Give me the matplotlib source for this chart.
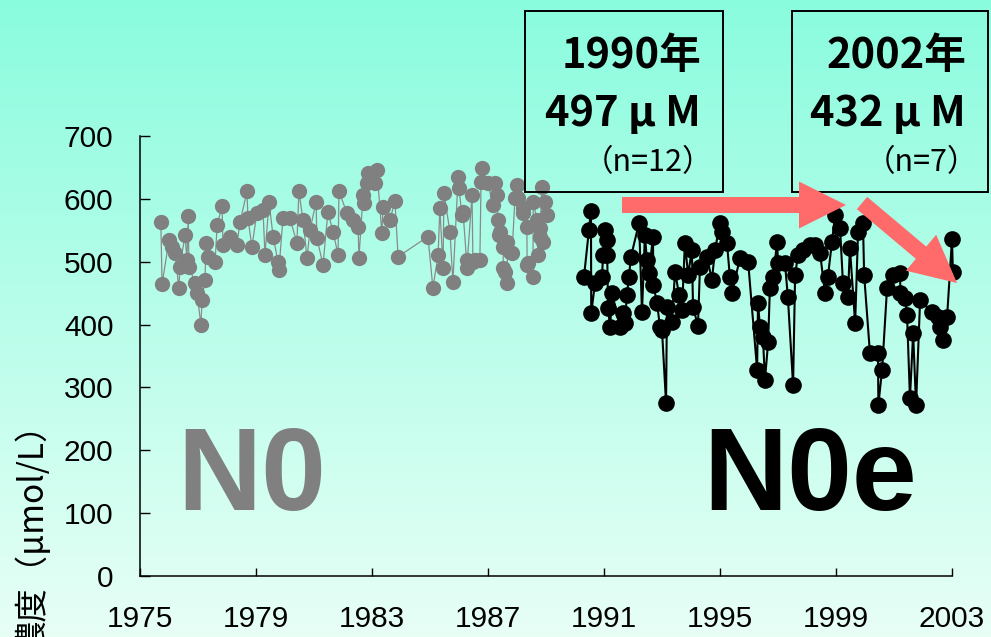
import numpy as np
import matplotlib
matplotlib.use("Agg")
import matplotlib.pyplot as plt
from matplotlib.patches import Polygon, Rectangle

# ---- data -------------------------------------------------------------
n0_years = [
    1975.72, 1975.76, 1976.00, 1976.10, 1976.21, 1976.34, 1976.38, 1976.55, 1976.62, 1976.66,
    1976.69, 1976.90, 1976.97, 1977.10, 1977.14, 1977.24, 1977.28, 1977.34, 1977.59, 1977.66,
    1977.83, 1977.86, 1978.10, 1978.34, 1978.45, 1978.69, 1978.72, 1978.86, 1979.03, 1979.24,
    1979.31, 1979.45, 1979.59, 1979.76, 1979.79, 1979.93, 1980.17, 1980.41, 1980.48, 1980.62,
    1980.76, 1980.86, 1981.07, 1981.10, 1981.31, 1981.48, 1981.66, 1981.83, 1981.86, 1982.14,
    1982.34, 1982.52, 1982.55, 1982.69, 1982.72, 1982.83, 1982.86, 1983.10, 1983.17, 1983.34,
    1983.38, 1983.62, 1983.79, 1983.90, 1984.93, 1985.10, 1985.28, 1985.34, 1985.45, 1985.48,
    1985.69, 1985.79, 1985.97, 1986.00, 1986.10, 1986.14, 1986.28, 1986.29, 1986.45, 1986.48,
    1986.55, 1986.72, 1986.76, 1986.79, 1987.00, 1987.17, 1987.24, 1987.31, 1987.34, 1987.38,
    1987.41, 1987.52, 1987.53, 1987.59, 1987.66, 1987.67, 1987.76, 1987.83, 1987.93, 1988.00,
    1988.03, 1988.21, 1988.22, 1988.34, 1988.35, 1988.38, 1988.55, 1988.56, 1988.69, 1988.72,
    1988.79, 1988.80, 1988.86, 1988.90, 1988.97, 1989.03,
]
n0_values = [
    563, 464, 534, 523, 514, 458, 492, 542, 503, 573,
    492, 466, 450, 399, 439, 471, 530, 508, 500, 558,
    589, 527, 540, 527, 563, 612, 569, 524, 577, 583,
    511, 595, 540, 500, 487, 569, 569, 530, 612, 566,
    506, 550, 595, 538, 495, 579, 547, 511, 612, 577,
    566, 555, 506, 606, 593, 625, 641, 625, 646, 546,
    587, 566, 597, 508, 540, 458, 511, 585, 490, 609,
    547, 468, 635, 617, 574, 579, 490, 503, 606, 500,
    503, 503, 627, 649, 625, 590, 625, 606, 566, 542,
    547, 524, 490, 484, 466, 531, 515, 514, 601, 622,
    601, 585, 577, 555, 495, 498, 476, 595, 566, 511,
    540, 553, 619, 531, 595, 574,
]

n0e_years = [
    1990.31, 1990.48, 1990.55, 1990.56, 1990.69, 1990.93, 1990.97, 1991.03, 1991.10, 1991.11,
    1991.14, 1991.21, 1991.28, 1991.55, 1991.66, 1991.72, 1991.79, 1991.86, 1991.93, 1992.21,
    1992.31, 1992.41, 1992.48, 1992.55, 1992.69, 1992.70, 1992.83, 1992.93, 1993.00, 1993.14,
    1993.17, 1993.34, 1993.45, 1993.59, 1993.69, 1993.79, 1993.90, 1994.03, 1994.07, 1994.24,
    1994.31, 1994.55, 1994.72, 1994.83, 1995.00, 1995.07, 1995.24, 1995.34, 1995.41, 1995.69,
    1995.97, 1996.28, 1996.31, 1996.38, 1996.48, 1996.55, 1996.66, 1996.72, 1996.83, 1996.97,
    1997.00, 1997.24, 1997.34, 1997.52, 1997.59, 1997.69, 1997.86, 1998.10, 1998.28, 1998.45,
    1998.62, 1998.72, 1998.86, 1998.97, 1999.14, 1999.24, 1999.41, 1999.48, 1999.66, 1999.76,
    1999.93, 1999.97, 2000.17, 2000.45, 2000.46, 2000.59, 2000.76, 2000.97, 2001.21, 2001.22,
    2001.38, 2001.45, 2001.55, 2001.66, 2001.76, 2001.90, 2002.31, 2002.52, 2002.59, 2002.69,
    2002.83, 2003.00, 2003.03,
]
n0e_values = [
    476, 550, 581, 418, 466, 476, 511, 550, 535, 511,
    426, 396, 450, 396, 418, 402, 447, 476, 508, 562,
    420, 542, 503, 482, 540, 463, 434, 396, 391, 275,
    428, 404, 484, 447, 423, 530, 479, 519, 428, 398,
    492, 508, 471, 519, 562, 547, 530, 476, 450, 506,
    500, 328, 434, 396, 380, 312, 372, 458, 476, 531,
    498, 498, 444, 304, 479, 511, 519, 527, 527, 514,
    450, 476, 531, 574, 553, 466, 444, 522, 402, 547,
    562, 479, 355, 355, 272, 328, 458, 479, 482, 450,
    442, 415, 283, 386, 272, 439, 420, 412, 396, 375,
    412, 536, 484,
]

x_ticks = [1975, 1979, 1983, 1987, 1991, 1995, 1999, 2003]
y_ticks = [0, 100, 200, 300, 400, 500, 600, 700]

box_texts = [
    ("1990年", "497 μ M", "（n=12）"),
    ("2002年", "432 μ M", "（n=7）"),
]
y_label = "濃度（μmol/L）"

# ---- figure -----------------------------------------------------------
W, H = 991, 637
fig = plt.figure(figsize=(W / 100, H / 100), dpi=100)


def fx(x):
    return x / W


def fy(y):
    return 1 - y / H


# vertical gradient background
bg = fig.add_axes([0, 0, 1, 1], zorder=-10)
top = np.array([138, 252, 222]) / 255
bot = np.array([232, 255, 246]) / 255
t = np.linspace(0, 1, 256)[:, None, None]
grad = top * (1 - t) + bot * t
bg.imshow(grad, aspect="auto", extent=[0, 1, 0, 1])
bg.axis("off")

ax = fig.add_axes([fx(140), 1 - 576 / H, (952 - 140) / W, (576 - 136) / H])
ax.set_facecolor("none")

ax.plot(n0_years, n0_values, "-", color="#8a8a8a", lw=0.9, zorder=3, clip_on=False)
ax.plot(n0_years, n0_values, "o", color="#808080", ms=11, mew=0, zorder=3, clip_on=False)
ax.plot(n0e_years, n0e_values, "-", color="black", lw=1.5, zorder=4, clip_on=False)
ax.plot(n0e_years, n0e_values, "o", color="black", ms=12, mew=0, zorder=4, clip_on=False)

ax.set_xlim(1975, 2003)
ax.set_ylim(0, 700)
ax.set_xticks(x_ticks)
ax.set_yticks(y_ticks)
for s in ("top", "right"):
    ax.spines[s].set_visible(False)
for s in ("left", "bottom"):
    ax.spines[s].set_linewidth(1.1)
ax.tick_params(axis="x", direction="in", length=6, width=1, pad=21)
ax.tick_params(axis="y", direction="in", length=7, width=1, pad=19)
for lab in ax.get_xticklabels() + ax.get_yticklabels():
    lab.set_fontfamily("Liberation Sans")
    lab.set_fontsize(21.5)

# y axis title, running off the bottom edge
fig.text(fx(33), fy(407), y_label, rotation=90, ha="center", va="top",
         family=["Noto Sans CJK JP", "DejaVu Sans"], fontsize=24)

# series names
fig.text(fx(177), fy(510), "N0", color="#808080", family="Liberation Sans",
         weight="bold", fontsize=84, va="baseline", ha="left")
fig.text(fx(703), fy(510), "N0e", color="black", family="Liberation Sans",
         weight="bold", fontsize=84, va="baseline", ha="left")

# summary boxes
cjk = ["Noto Sans CJK JP", "DejaVu Sans"]
boxes = [(525, 723), (792, 988)]
for (x0, x1), (yr, conc, n) in zip(boxes, box_texts):
    fig.patches.append(Rectangle((fx(x0), fy(192)), fx(x1 - x0), (192 - 11) / H,
                                 transform=fig.transFigure, fill=False,
                                 edgecolor="black", lw=1.4, zorder=5))
    xr = x1 - 22
    fig.text(fx(xr), fy(56), yr, ha="right", va="center", family=cjk,
             weight="bold", fontsize=30, zorder=6)
    fig.text(fx(xr), fy(114), conc, ha="right", va="center", family=cjk,
             weight="bold", fontsize=30, zorder=6)
    fig.text(fx(xr + 12), fy(163), n, ha="right", va="center", family=cjk,
             fontsize=22, zorder=6)


def arrow_poly(p0, p1, shaft_w, head_w, head_len):
    p0 = np.asarray(p0, float)
    p1 = np.asarray(p1, float)
    d = p1 - p0
    L = np.hypot(*d)
    u = d / L
    n = np.array([-u[1], u[0]])
    b = p1 - u * head_len
    pts = [p0 + n * shaft_w / 2, b + n * shaft_w / 2, b + n * head_w / 2, p1,
           b - n * head_w / 2, b - n * shaft_w / 2, p0 - n * shaft_w / 2]
    return [(fx(x), fy(y)) for x, y in pts]


for p0, p1 in [((622, 205), (846, 205)), ((862, 203), (957, 283))]:
    fig.patches.append(Polygon(arrow_poly(p0, p1, 16, 47, 47), closed=True,
                               transform=fig.transFigure, facecolor="#ff6a6a",
                               edgecolor="none", lw=0, zorder=7))

fig.savefig("out.png", dpi=100)
